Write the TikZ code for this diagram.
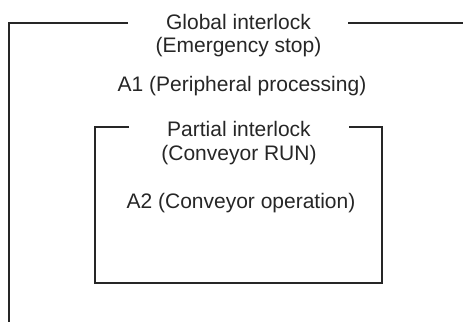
\documentclass[tikz,border=0pt]{standalone}
\usepackage{fontspec}
\setmainfont{Liberation Sans}
\tikzset{
  frame/.style={line width=1.8pt, color=black!85},
  label/.style={anchor=base, inner sep=0pt, font=\fontsize{21}{24}\selectfont, color=black!85}
}
\begin{document}
\begin{tikzpicture}[x=1pt,y=-1pt]
\useasboundingbox (0,0) rectangle (463,322);

% outer block: global interlock
\node[label] (glob1) at (238.5,29) {Global interlock};
\node[label] (glob2) at (238.5,52) {(Emergency stop)};
\node[label] (a1) at (242,91) {A1 (Peripheral processing)};
\coordinate (otl) at (9,23);
\coordinate (obl) at (9,322);
\draw[frame] (128,23) -- (otl) -- (obl);
\draw[frame] (348,23) -- (463,23);

% inner block: partial interlock
\node[label] (part1) at (239,136) {Partial interlock};
\node[label] (part2) at (239,160) {(Conveyor RUN)};
\node[label] (a2) at (241,208) {A2 (Conveyor operation)};
\draw[frame] (129,127) -- (95,127) -- (95,283) -- (382,283) -- (382,127) -- (349,127);
\end{tikzpicture}
\end{document}
